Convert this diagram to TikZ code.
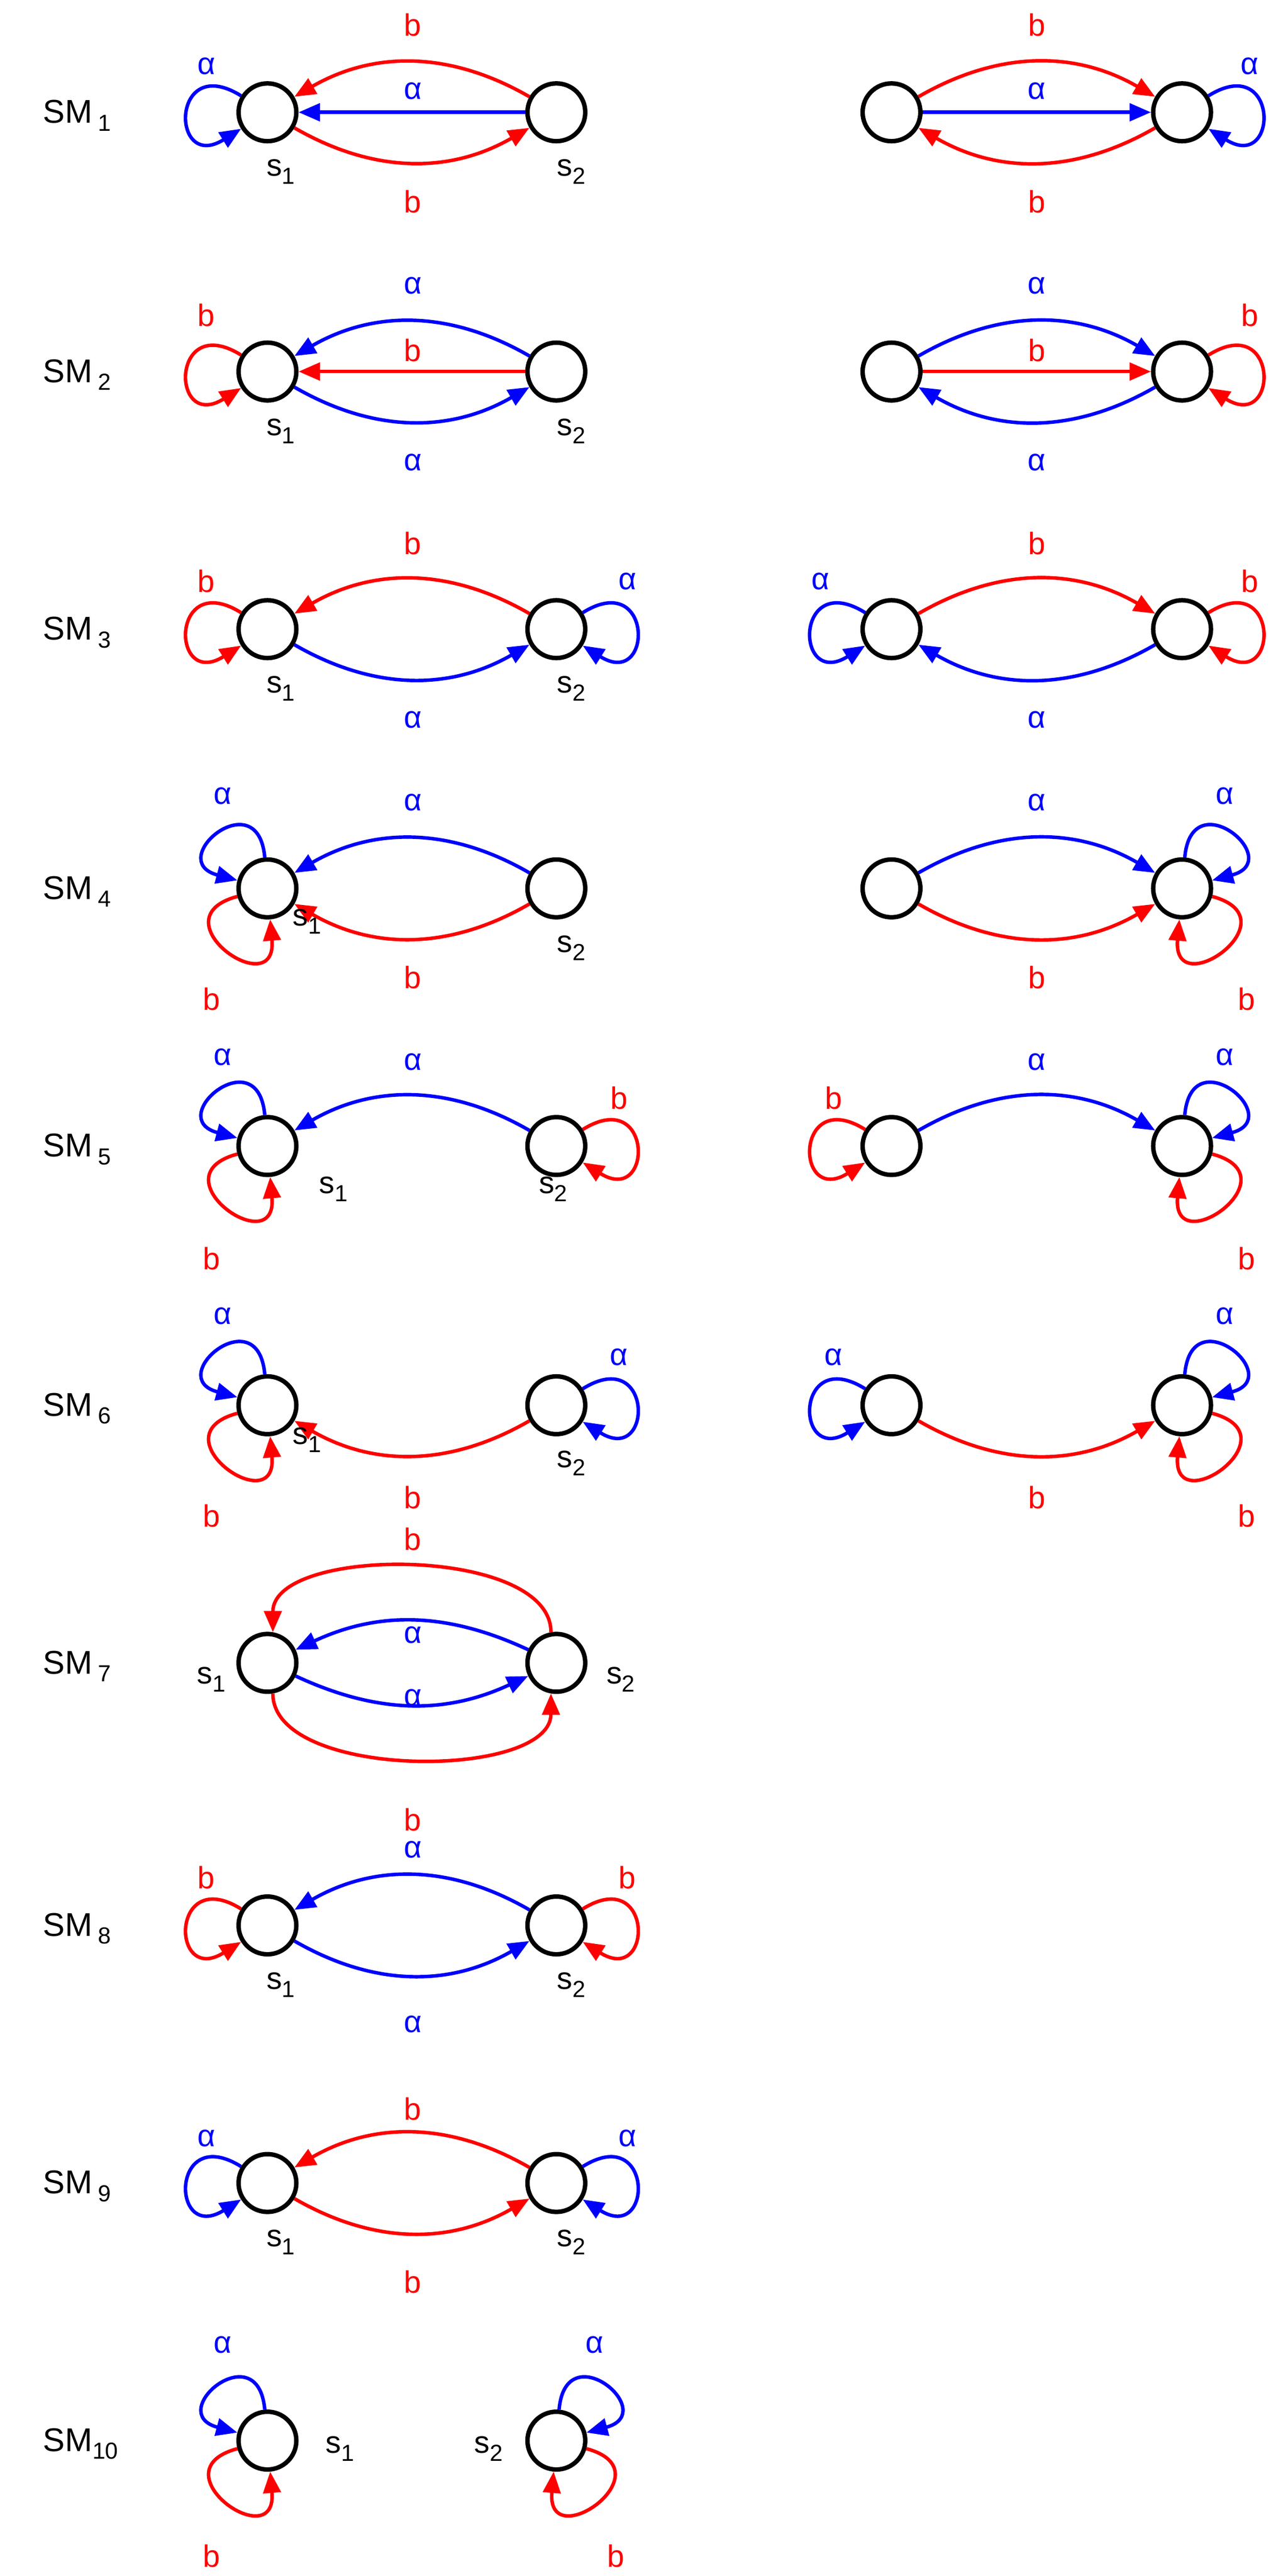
\documentclass[tikz,border=0pt]{standalone}
\usepackage{fontspec}
\setmainfont{Liberation Sans}
\usetikzlibrary{arrows.meta}
\definecolor{cb}{rgb}{0,0,1}
\definecolor{cr}{rgb}{1,0,0}
\begin{document}
\begin{tikzpicture}[x=0.03cm,y=-0.03cm,
 st/.style={circle,draw=black,line width=2.3pt,minimum size=1.05cm,inner sep=0pt},
 ed/.style={line width=1.8pt,-{Triangle[length=11pt,width=9pt]}},
 bl/.style={ed,draw=cb},
 rd/.style={ed,draw=cr},
 lb/.style={font=\fontsize{16}{19}\selectfont,text=cb},
 lr/.style={font=\fontsize{16}{19}\selectfont,text=cr},
 sl/.style={font=\fontsize{16}{19}\selectfont},
 sm/.style={font=\fontsize{17}{20}\selectfont,anchor=west},
 LL/.style={out=148,in=212,looseness=6.5},
 RR/.style={out=32,in=-32,looseness=6.5},
 UL/.style={out=95,in=165,looseness=5.5},
 DL/.style={out=195,in=275,looseness=5.5},
 UR/.style={out=85,in=15,looseness=5.5},
 DR/.style={out=-15,in=265,looseness=5.5}]
\useasboundingbox (0,0) rectangle (780,1560);
\newcommand\smlab[3]{\node[sm] (#1) at (22,#2) {SM\,\raisebox{-0.45ex}{\fontsize{12}{14}\selectfont #3}};}
\newcommand\ssub[1]{s\raisebox{-0.5ex}{\fontsize{12}{14}\selectfont #1}}
% ---------- SM1
\smlab{m1}{70}{1}
\node[st] (a1) at (162,68) {}; \node[st] (b1) at (337,68) {};
\node[st] (c1) at (540,68) {}; \node[st] (d1) at (716,68) {};
\draw[bl] (a1) to[LL] (a1); \draw[rd] (b1) to[bend right=30] (a1);
\draw[bl] (b1) -- (a1); \draw[rd] (a1) to[bend right=30] (b1);
\node[lb] (t1a) at (125,40) {α}; \node[lr] (t1b) at (250,15) {b}; \node[lb] (t1c) at (250,55) {α}; \node[lr] (t1d) at (250,122) {b};
\node[sl] (s11) at (170,104) {\ssub1}; \node[sl] (s12) at (346,104) {\ssub2};
\draw[rd] (c1) to[bend left=30] (d1); \draw[bl] (c1) -- (d1); \draw[rd] (d1) to[bend left=30] (c1);
\draw[bl] (d1) to[RR] (d1);
\node[lb] (u1a) at (757,40) {α}; \node[lr] (u1b) at (628,15) {b}; \node[lb] (u1c) at (628,55) {α}; \node[lr] (u1d) at (628,122) {b};
% ---------- SM2
\smlab{m2}{227}{2}
\node[st] (a2) at (162,225) {}; \node[st] (b2) at (337,225) {};
\node[st] (c2) at (540,225) {}; \node[st] (d2) at (716,225) {};
\draw[rd] (a2) to[LL] (a2); \draw[bl] (b2) to[bend right=30] (a2);
\draw[rd] (b2) -- (a2); \draw[bl] (a2) to[bend right=30] (b2);
\node[lr] (t2a) at (125,191) {b}; \node[lb] (t2b) at (250,173) {α}; \node[lr] (t2c) at (250,212) {b}; \node[lb] (t2d) at (250,280) {α};
\node[sl] (s21) at (170,261) {\ssub1}; \node[sl] (s22) at (346,261) {\ssub2};
\draw[bl] (c2) to[bend left=30] (d2); \draw[rd] (c2) -- (d2); \draw[bl] (d2) to[bend left=30] (c2);
\draw[rd] (d2) to[RR] (d2);
\node[lr] (u2a) at (757,191) {b}; \node[lb] (u2b) at (628,173) {α}; \node[lr] (u2c) at (628,212) {b}; \node[lb] (u2d) at (628,280) {α};
% ---------- SM3
\smlab{m3}{383}{3}
\node[st] (a3) at (162,381) {}; \node[st] (b3) at (337,381) {};
\node[st] (c3) at (540,381) {}; \node[st] (d3) at (716,381) {};
\draw[rd] (a3) to[LL] (a3); \draw[rd] (b3) to[bend right=30] (a3);
\draw[bl] (a3) to[bend right=30] (b3); \draw[bl] (b3) to[RR] (b3);
\node[lr] (t3a) at (125,352) {b}; \node[lr] (t3b) at (250,329) {b}; \node[lb] (t3d) at (250,436) {α}; \node[lb] (t3e) at (380,352) {α};
\node[sl] (s31) at (170,417) {\ssub1}; \node[sl] (s32) at (346,417) {\ssub2};
\draw[bl] (c3) to[LL] (c3); \draw[rd] (c3) to[bend left=30] (d3); \draw[bl] (d3) to[bend left=30] (c3);
\draw[rd] (d3) to[RR] (d3);
\node[lb] (u3e) at (497,352) {α}; \node[lr] (u3b) at (628,329) {b}; \node[lb] (u3d) at (628,436) {α}; \node[lr] (u3a) at (757,352) {b};
% ---------- SM4
\smlab{m4}{540}{4}
\node[st] (a4) at (162,538) {}; \node[st] (b4) at (337,538) {};
\node[st] (c4) at (540,538) {}; \node[st] (d4) at (716,538) {};
\draw[bl] (a4) to[UL] (a4); \draw[rd] (a4) to[DL] (a4);
\draw[bl] (b4) to[bend right=30] (a4); \draw[rd] (b4) to[bend left=30] (a4);
\node[lb] (t4a) at (135,482) {α}; \node[lr] (t4b) at (128,605) {b}; \node[lb] (t4c) at (250,486) {α}; \node[lr] (t4d) at (250,592) {b};
\node[sl] (s41) at (186,558) {\ssub1}; \node[sl] (s42) at (346,574) {\ssub2};
\draw[bl] (c4) to[bend left=30] (d4); \draw[rd] (c4) to[bend right=30] (d4);
\draw[bl] (d4) to[UR] (d4); \draw[rd] (d4) to[DR] (d4);
\node[lb] (u4a) at (742,482) {α}; \node[lr] (u4b) at (755,605) {b}; \node[lb] (u4c) at (628,486) {α}; \node[lr] (u4d) at (628,592) {b};
% ---------- SM5
\smlab{m5}{696}{5}
\node[st] (a5) at (162,694) {}; \node[st] (b5) at (337,694) {};
\node[st] (c5) at (540,694) {}; \node[st] (d5) at (716,694) {};
\draw[bl] (a5) to[UL] (a5); \draw[rd] (a5) to[DL] (a5);
\draw[bl] (b5) to[bend right=30] (a5); \draw[rd] (b5) to[RR] (b5);
\node[lb] (t5a) at (135,640) {α}; \node[lr] (t5b) at (128,762) {b}; \node[lb] (t5c) at (250,643) {α}; \node[lr] (t5d) at (375,665) {b};
\node[sl] (s51) at (202,720) {\ssub1}; \node[sl] (s52) at (335,720) {\ssub2};
\draw[rd] (c5) to[LL] (c5); \draw[bl] (c5) to[bend left=30] (d5);
\draw[bl] (d5) to[UR] (d5); \draw[rd] (d5) to[DR] (d5);
\node[lr] (u5d) at (505,665) {b}; \node[lb] (u5c) at (628,643) {α}; \node[lb] (u5a) at (742,640) {α}; \node[lr] (u5b) at (755,762) {b};
% ---------- SM6
\smlab{m6}{853}{6}
\node[st] (a6) at (162,851) {}; \node[st] (b6) at (337,851) {};
\node[st] (c6) at (540,851) {}; \node[st] (d6) at (716,851) {};
\draw[bl] (a6) to[UL] (a6); \draw[rd] (a6) to[DL] (a6);
\draw[rd] (b6) to[bend left=30] (a6); \draw[bl] (b6) to[RR] (b6);
\node[lb] (t6a) at (135,797) {α}; \node[lr] (t6b) at (128,918) {b}; \node[lr] (t6c) at (250,907) {b}; \node[lb] (t6d) at (375,822) {α};
\node[sl] (s61) at (186,872) {\ssub1}; \node[sl] (s62) at (346,886) {\ssub2};
\draw[bl] (c6) to[LL] (c6); \draw[rd] (c6) to[bend right=30] (d6);
\draw[bl] (d6) to[UR] (d6); \draw[rd] (d6) to[DR] (d6);
\node[lb] (u6d) at (505,822) {α}; \node[lr] (u6c) at (628,907) {b}; \node[lb] (u6a) at (742,797) {α}; \node[lr] (u6b) at (755,918) {b};
% ---------- SM7
\smlab{m7}{1009}{7}
\node[st] (a7) at (162,1007) {}; \node[st] (b7) at (337,1007) {};
\draw[rd] (b7.100) to[out=90,in=90,looseness=0.8] (a7.80);
\draw[bl] (b7) to[bend right=25] (a7);
\draw[bl] (a7) to[bend right=25] (b7);
\draw[rd] (a7.-80) to[out=-90,in=-90,looseness=0.8] (b7.-100);
\node[lr] (t7a) at (250,932) {b}; \node[lb] (t7b) at (250,990) {α}; \node[lb] (t7c) at (250,1028) {α}; \node[lr] (t7d) at (250,1102) {b};
\node[sl] (s71) at (128,1017) {\ssub1}; \node[sl] (s72) at (376,1017) {\ssub2};
% ---------- SM8
\smlab{m8}{1168}{8}
\node[st] (a8) at (162,1166) {}; \node[st] (b8) at (337,1166) {};
\draw[rd] (a8) to[LL] (a8); \draw[bl] (b8) to[bend right=30] (a8);
\draw[bl] (a8) to[bend right=30] (b8); \draw[rd] (b8) to[RR] (b8);
\node[lr] (t8a) at (125,1137) {b}; \node[lb] (t8b) at (250,1120) {α}; \node[lb] (t8c) at (250,1226) {α}; \node[lr] (t8d) at (380,1137) {b};
\node[sl] (s81) at (170,1202) {\ssub1}; \node[sl] (s82) at (346,1202) {\ssub2};
% ---------- SM9
\smlab{m9}{1324}{9}
\node[st] (a9) at (162,1322) {}; \node[st] (b9) at (337,1322) {};
\draw[bl] (a9) to[LL] (a9); \draw[rd] (b9) to[bend right=30] (a9);
\draw[rd] (a9) to[bend right=30] (b9); \draw[bl] (b9) to[RR] (b9);
\node[lb] (t9a) at (125,1295) {α}; \node[lr] (t9b) at (250,1277) {b}; \node[lr] (t9c) at (250,1382) {b}; \node[lb] (t9d) at (380,1295) {α};
\node[sl] (s91) at (170,1358) {\ssub1}; \node[sl] (s92) at (346,1358) {\ssub2};
% ---------- SM10
\node[sm] (m10) at (22,1480) {SM\raisebox{-0.45ex}{\fontsize{12}{14}\selectfont 10}};
\node[st] (a10) at (162,1478) {}; \node[st] (b10) at (337,1478) {};
\draw[bl] (a10) to[UL] (a10); \draw[rd] (a10) to[DL] (a10);
\draw[bl] (b10) to[UR] (b10); \draw[rd] (b10) to[DR] (b10);
\node[lb] (t10a) at (135,1420) {α}; \node[lr] (t10b) at (128,1548) {b};
\node[lb] (t10c) at (360,1420) {α}; \node[lr] (t10d) at (373,1548) {b};
\node[sl] (s101) at (206,1483) {\ssub1}; \node[sl] (s102) at (296,1483) {\ssub2};
\end{tikzpicture}
\end{document}
